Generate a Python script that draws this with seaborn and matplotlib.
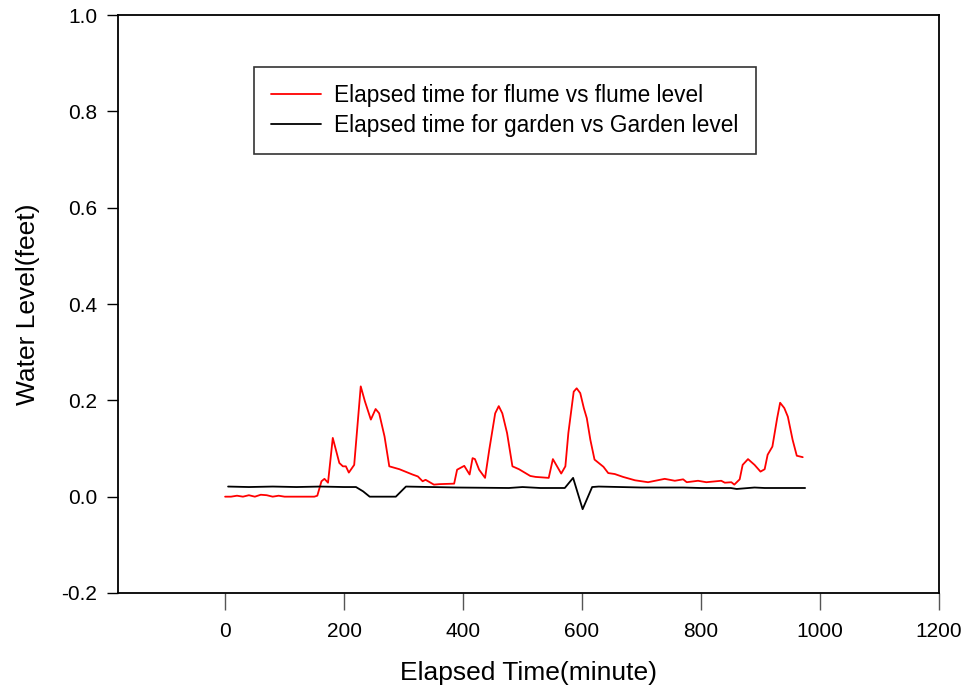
import matplotlib
matplotlib.use("Agg")
import matplotlib.pyplot as plt
import seaborn as sns

# ---------------------------
# data
# ---------------------------
flume_t = [0, 10, 20, 30, 40, 50, 60, 70, 80, 90, 100, 110, 120, 130, 140, 150, 155,
           162, 167, 173, 181, 192, 198, 203, 208, 217, 228, 235, 245, 253, 259, 268,
           276, 293, 315, 324, 332, 337, 351, 360, 385, 390, 402, 411, 416, 420, 427,
           437, 444, 454, 460, 466, 474, 483, 494, 513, 522, 544, 551, 558, 565, 572,
           577, 586, 591, 597, 603, 608, 614, 621, 628, 636, 644, 655, 669, 689, 711,
           739, 756, 770, 776, 795, 809, 834, 840, 851, 856, 865, 870, 879, 890, 900,
           907, 912, 920, 928, 933, 940, 946, 954, 961, 971]
flume_level = [0.0, 0.0, 0.002, 0.0, 0.003, 0.0, 0.004, 0.003, 0.0, 0.002, 0.0, 0.0, 0.0,
               0.0, 0.0, 0.0, 0.002, 0.032, 0.037, 0.029, 0.122, 0.070, 0.063, 0.063,
               0.050, 0.066, 0.229, 0.198, 0.160, 0.182, 0.173, 0.125, 0.063, 0.057,
               0.046, 0.042, 0.032, 0.035, 0.025, 0.026, 0.027, 0.056, 0.064, 0.046,
               0.080, 0.078, 0.056, 0.039, 0.097, 0.173, 0.188, 0.173, 0.132, 0.063,
               0.057, 0.043, 0.041, 0.039, 0.078, 0.063, 0.048, 0.063, 0.132, 0.218,
               0.225, 0.215, 0.184, 0.163, 0.118, 0.077, 0.070, 0.062, 0.049, 0.047,
               0.041, 0.034, 0.030, 0.037, 0.033, 0.036, 0.030, 0.033, 0.030, 0.033,
               0.029, 0.030, 0.025, 0.036, 0.066, 0.078, 0.066, 0.052, 0.057, 0.087,
               0.104, 0.163, 0.195, 0.184, 0.166, 0.118, 0.085, 0.082]

garden_t = [5, 40, 80, 120, 160, 200, 220, 232, 243, 287, 304, 390, 477, 500, 530, 571,
            585, 601, 617, 628, 700, 770, 800, 850, 860, 890, 907, 975]
garden_level = [0.021, 0.020, 0.021, 0.020, 0.021, 0.020, 0.020, 0.011, 0.0, 0.0, 0.021,
                0.019, 0.018, 0.020, 0.018, 0.018, 0.039, -0.026, 0.020, 0.021, 0.019,
                0.019, 0.018, 0.018, 0.016, 0.019, 0.018, 0.018]

x_ticks = [0, 200, 400, 600, 800, 1000, 1200]
y_ticks = [-0.2, 0.0, 0.2, 0.4, 0.6, 0.8, 1.0]

# ---------------------------
# plot
# ---------------------------
sns.set_style("ticks")
plt.rcParams['font.family'] = ['Liberation Sans', 'DejaVu Sans']
plt.rcParams['axes.unicode_minus'] = False
for key in ['text.color', 'axes.labelcolor', 'xtick.color', 'ytick.color']:
    plt.rcParams[key] = 'black'

fig = plt.figure(figsize=(9.69, 6.96), dpi=100)
ax = fig.add_axes([0.1218, 0.148, 0.969 - 0.1218, 0.9784 - 0.148])

sns.lineplot(x=flume_t, y=flume_level, color='#ff0000', linewidth=1.3, sort=False,
             estimator=None, label='Elapsed time for flume vs flume level', ax=ax)
sns.lineplot(x=garden_t, y=garden_level, color='black', linewidth=1.3, sort=False,
             estimator=None, label='Elapsed time for garden vs Garden level', ax=ax)

ax.set_xlim(-180, 1200)
ax.set_ylim(-0.2, 1.0)
ax.set_xticks(x_ticks)
ax.set_yticks(y_ticks)
ax.set_yticklabels([f"{v:.1f}" for v in y_ticks])
ax.tick_params(axis='x', direction='out', length=12, width=1, color='#555555',
               labelsize=15, pad=9)
ax.tick_params(axis='y', direction='out', length=8, width=1, labelsize=15, pad=7)
for s in ax.spines.values():
    s.set_linewidth(1.3)
    s.set_color('black')

ax.set_xlabel("Elapsed Time(minute)", fontsize=19, labelpad=14)
ax.set_ylabel("Water Level(feet)", fontsize=19, labelpad=15)

leg = ax.legend(loc='upper left', bbox_to_anchor=(254 / 969, 1 - 67 / 696),
                bbox_transform=fig.transFigure, fontsize=16.3, frameon=True,
                fancybox=False, handlelength=2.2, handletextpad=0.6,
                borderpad=0.75, labelspacing=0.3, borderaxespad=0)
leg.get_frame().set_edgecolor('black')
leg.get_frame().set_linewidth(1.2)

plt.savefig("out.png", dpi=100)
